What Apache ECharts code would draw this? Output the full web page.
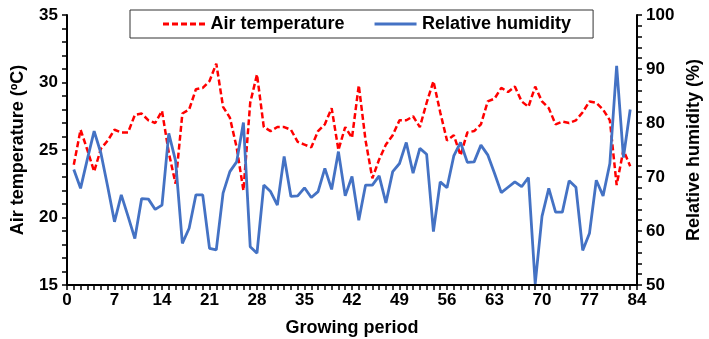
<!DOCTYPE html>
<html>
<head>
    <meta charset="UTF-8">
    <title>Air temperature and relative humidity</title>
    <script src="https://cdn.jsdelivr.net/npm/echarts@6/dist/echarts.min.js"></script>
    <style>
        html, body { margin: 0; padding: 0; background: #fff; }
        #main { width: 709px; height: 339px; }
    </style>
</head>
<body>
    <div id="main"></div>
    <script>
        // growing period, day 1 .. 83
        const days = Array.from({ length: 83 }, (_, i) => i + 1);

        const airTemperature = [
            23.9, 26.5, 25.0, 23.4, 25.1, 25.7, 26.5, 26.3, 26.3, 27.6,
            27.7, 27.2, 27.0, 27.9, 24.8, 22.5, 27.7, 28.0, 29.5, 29.6,
            30.1, 31.4, 28.2, 27.4, 25.2, 22.0, 28.5, 30.6, 26.7, 26.4,
            26.7, 26.7, 26.5, 25.6, 25.4, 25.2, 26.4, 26.9, 28.1, 25.0,
            26.7, 25.9, 29.8, 25.7, 22.9, 24.3, 25.4, 26.1, 27.2, 27.2,
            27.5, 26.7, 28.5, 30.1, 27.8, 25.7, 26.1, 24.6, 26.3, 26.4,
            26.9, 28.6, 28.8, 29.6, 29.3, 29.7, 28.6, 28.2, 29.7, 28.6,
            28.1, 26.9, 27.1, 27.0, 27.2, 27.8, 28.6, 28.5, 28.0, 27.2,
            22.4, 25.0, 23.8
        ];

        const relativeHumidity = [
            71.4, 67.9, 73.3, 78.5, 74.4, 68.2, 61.7, 66.7, 62.7, 58.6,
            66.0, 65.9, 64.0, 64.8, 78.1, 73.0, 57.7, 60.5, 66.7, 66.7,
            56.8, 56.5, 67.0, 71.0, 72.8, 80.1, 57.1, 55.9, 68.5, 67.3,
            64.8, 73.8, 66.4, 66.5, 68.0, 66.2, 67.3, 71.6, 67.7, 74.7,
            66.5, 70.1, 62.0, 68.5, 68.5, 70.2, 65.2, 71.0, 72.5, 76.4,
            70.7, 75.3, 74.2, 59.9, 69.1, 68.0, 73.9, 76.4, 72.7, 72.8,
            75.9, 74.1, 70.7, 67.1, 68.1, 69.1, 68.2, 69.9, 50.2, 62.7,
            67.9, 63.5, 63.5, 69.3, 68.1, 56.4, 59.6, 69.4, 66.5, 72.5,
            90.6, 73.6, 82.5
        ];

        const font = 'Liberation Sans, Arial, sans-serif';
        const axisLine = { show: true, lineStyle: { color: '#000', width: 2 } };
        const axisTick = { show: true, inside: false, length: 5, lineStyle: { color: '#000', width: 1.5 } };
        const minorLine = { color: '#000', width: 1.5 };
        const labelStyle = { color: '#000', fontFamily: font, fontWeight: 'bold', fontSize: 17 };
        const nameStyle = { color: '#000', fontFamily: font, fontWeight: 'bold', fontSize: 18 };

        // legend icons: flat bars, the red one cut into dashes
        const dashIcon = 'path://M0,0h6v3h-6z M9,0h6v3h-6z M18,0h6v3h-6z M27,0h6v3h-6z M36,0h6v3h-6z';
        const solidIcon = 'path://M0,0h42v3h-42z';

        const chart = echarts.init(document.getElementById('main'));
        chart.setOption({
            animation: false,
            backgroundColor: '#fff',
            grid: { left: 67, right: 72, top: 15, bottom: 54, containLabel: false, outerBoundsMode: 'none' },
            legend: {
                left: 130,
                top: 10,
                padding: [5, 22, 5, 33],
                itemGap: 30,
                itemWidth: 43,
                itemHeight: 3,
                borderColor: '#333',
                borderWidth: 1,
                textStyle: { color: '#000', fontFamily: font, fontWeight: 'bold', fontSize: 18 },
                data: [
                    { name: 'Air temperature', icon: dashIcon },
                    { name: 'Relative humidity', icon: solidIcon }
                ]
            },
            xAxis: {
                type: 'value',
                min: 0,
                max: 84,
                interval: 7,
                name: 'Growing period',
                nameLocation: 'middle',
                nameGap: 34,
                nameTextStyle: nameStyle,
                axisLine: axisLine,
                axisTick: axisTick,
                minorTick: { show: true, splitNumber: 7, length: 5, lineStyle: minorLine },
                axisLabel: Object.assign({ margin: 7 }, labelStyle),
                splitLine: { show: false }
            },
            yAxis: [{
                type: 'value',
                min: 15,
                max: 35,
                interval: 5,
                name: 'Air temperature (ºC)',
                nameLocation: 'middle',
                nameGap: 40,
                nameTextStyle: nameStyle,
                axisLine: axisLine,
                axisTick: axisTick,
                minorTick: { show: true, splitNumber: 5, length: 5, lineStyle: minorLine },
                axisLabel: Object.assign({ margin: 9 }, labelStyle),
                splitLine: { show: false }
            }, {
                type: 'value',
                min: 50,
                max: 100,
                interval: 10,
                position: 'right',
                name: 'Relative humidity (%)',
                nameLocation: 'middle',
                nameGap: 48,
                nameTextStyle: nameStyle,
                axisLine: axisLine,
                axisTick: axisTick,
                minorTick: { show: true, splitNumber: 5, length: 5, lineStyle: minorLine },
                axisLabel: Object.assign({ margin: 9 }, labelStyle),
                splitLine: { show: false }
            }],
            series: [{
                name: 'Air temperature',
                type: 'line',
                yAxisIndex: 0,
                data: days.map((d, i) => [d, airTemperature[i]]),
                showSymbol: false,
                symbol: 'none',
                color: '#ff0000',
                lineStyle: { color: '#ff0000', width: 2.5, type: [6, 3] },
                z: 2
            }, {
                name: 'Relative humidity',
                type: 'line',
                yAxisIndex: 1,
                data: days.map((d, i) => [d, relativeHumidity[i]]),
                showSymbol: false,
                symbol: 'none',
                color: '#4472c4',
                lineStyle: { color: '#4472c4', width: 2.8 },
                z: 3
            }]
        });
    </script>
</body>
</html>
